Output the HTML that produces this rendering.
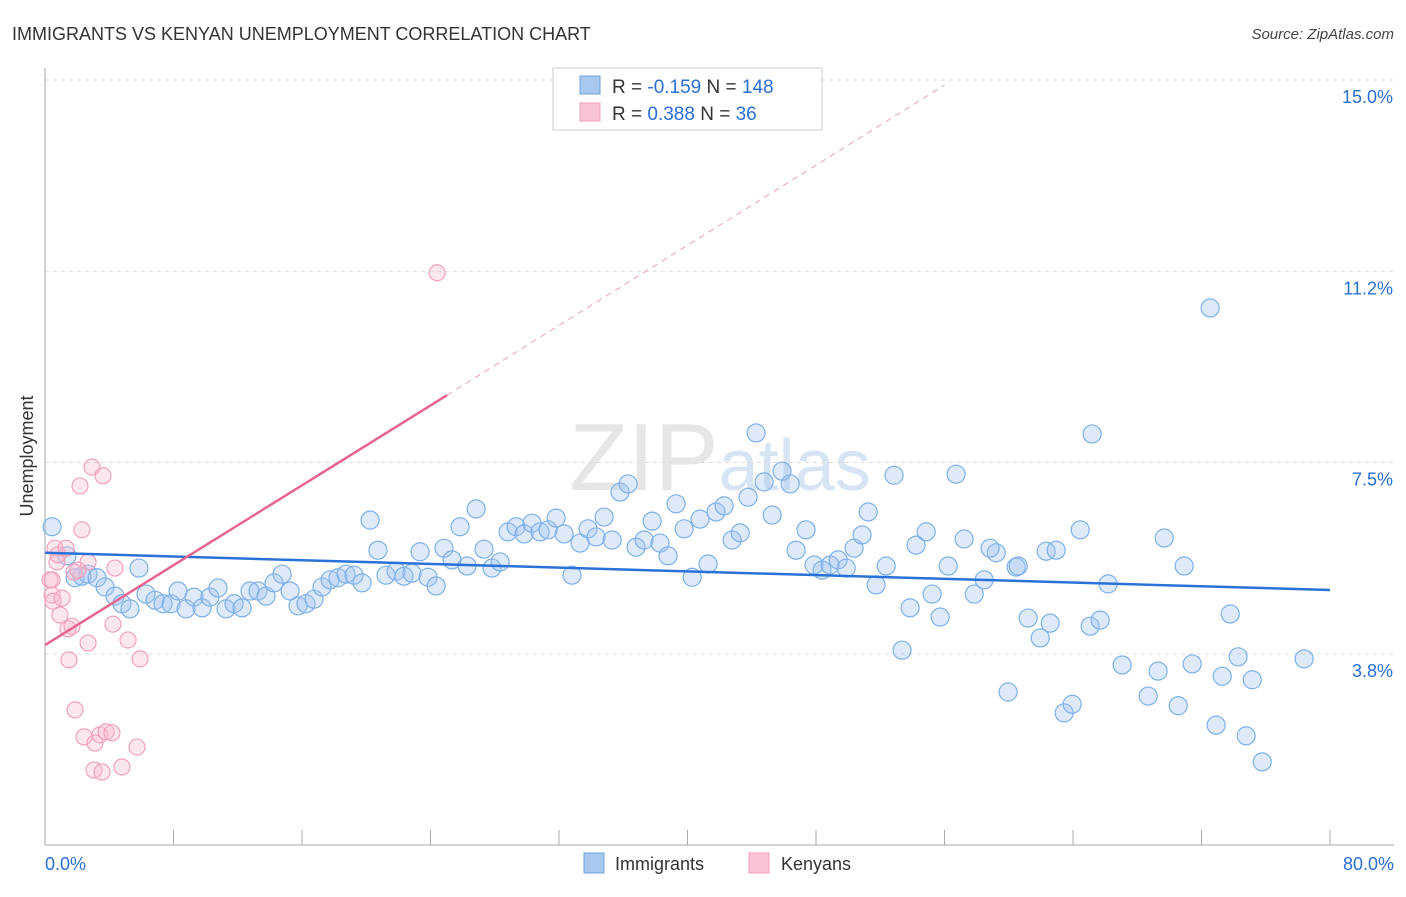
<!DOCTYPE html>
<html><head><meta charset="utf-8"><style>
body{margin:0;background:#fff;font-family:"Liberation Sans",sans-serif;}
svg text{font-family:"Liberation Sans",sans-serif;}
</style></head><body>
<svg id="chart" width="1406" height="892" xmlns="http://www.w3.org/2000/svg">
<text x="12" y="40" font-size="18" fill="#333">IMMIGRANTS VS KENYAN UNEMPLOYMENT CORRELATION CHART</text>
<text x="1394" y="39" font-size="15" fill="#444" text-anchor="end" font-style="italic">Source: ZipAtlas.com</text>
<text x="720" y="490" font-size="96" fill="#e6e6e6" text-anchor="middle" font-family="Liberation Serif">ZIP<tspan fill="#d6e4f4" font-family="Liberation Sans" font-size="72">atlas</tspan></text>
<g id="grid"></g>
<g id="axes"></g>
<g id="marks"></g>
<text transform="translate(33,456) rotate(-90)" font-size="18" fill="#333" text-anchor="middle">Unemployment</text>
<g>
<rect x="553" y="68" width="269" height="62" fill="#fff" stroke="#ccc"/>
<rect x="580" y="76" width="20" height="18" fill="#a9c8f0" stroke="#6fa2e0"/>
<rect x="580" y="103" width="20" height="18" fill="#f9c3d3" stroke="#f0a0b8"/>
<text x="612" y="93" font-size="19" fill="#333">R = <tspan fill="#2a6fd6">-0.159</tspan>   N = <tspan fill="#2a6fd6">148</tspan></text>
<text x="612" y="120" font-size="19" fill="#333">R =  <tspan fill="#2a6fd6">0.388</tspan>   N =  <tspan fill="#2a6fd6"> 36</tspan></text>
</g>
<g>
<rect x="584" y="853" width="20" height="20" fill="#a9c8f0" stroke="#6fa2e0"/>
<text x="615" y="870" font-size="18" fill="#333">Immigrants</text>
<rect x="749" y="853" width="20" height="20" fill="#f9c3d3" stroke="#f0a0b8"/>
<text x="781" y="870" font-size="18" fill="#333">Kenyans</text>
</g>
</svg>
<script>
const yTicks=[3.75,7.5,11.25,15];
const yTickLabels=["3.8%","7.5%","11.2%","15.0%"];
const xLabels=["0.0%","80.0%"];
const blueX=[0.44,1.37,1.87,2.30,2.68,3.24,3.74,4.36,4.79,5.29,5.85,6.29,6.85,7.35,7.85,8.28,8.78,9.28,9.78,10.27,10.77,11.27,11.77,12.27,12.76,13.26,13.76,14.26,14.76,15.26,15.75,16.25,16.75,17.25,17.75,18.24,18.74,19.24,19.74,20.24,20.73,21.23,21.86,22.35,22.85,23.35,23.85,24.35,24.84,25.34,25.84,26.28,26.84,27.33,27.83,28.33,28.83,29.33,29.83,30.32,30.82,31.32,31.82,32.32,32.81,33.31,33.81,34.31,34.81,35.31,35.80,36.30,36.80,37.30,37.80,38.29,38.79,39.29,39.79,40.29,40.78,41.28,41.78,42.28,42.78,43.28,43.77,44.27,44.77,45.27,45.89,46.39,46.76,47.38,47.88,48.38,48.88,49.38,49.88,50.37,50.87,51.25,51.74,52.37,52.86,53.36,53.86,54.23,54.86,55.23,55.73,56.23,56.72,57.22,57.85,58.47,59.22,59.96,60.46,61.21,61.96,62.33,62.58,63.45,63.95,64.45,65.07,65.19,66.19,67.06,68.68,69.30,69.68,70.55,70.92,71.42,72.54,72.91,73.29,73.79,74.28,74.78,75.16,75.78,78.39,58.84,60.59,62.95,65.69];
const blueY=[6.24,5.67,5.24,5.27,5.31,5.24,5.06,4.88,4.73,4.63,5.43,4.92,4.80,4.73,4.73,4.98,4.63,4.86,4.65,4.86,5.04,4.63,4.73,4.65,4.98,4.98,4.88,5.14,5.31,4.98,4.69,4.73,4.82,5.06,5.20,5.24,5.31,5.29,5.14,6.37,5.78,5.29,5.37,5.27,5.33,5.75,5.25,5.08,5.82,5.59,6.24,5.47,6.59,5.80,5.43,5.55,6.14,6.24,6.10,6.31,6.14,6.18,6.41,6.10,5.29,5.92,6.20,6.04,6.43,5.98,6.92,7.08,5.84,5.98,6.35,5.92,5.67,6.69,6.20,5.25,6.39,5.51,6.53,6.65,5.98,6.12,6.82,8.08,7.12,6.47,7.33,7.08,5.78,6.18,5.49,5.39,5.49,5.59,5.43,5.82,6.08,6.53,5.10,5.47,7.25,3.82,4.65,5.88,6.14,4.92,4.47,5.47,7.27,6.00,4.92,5.20,5.73,3.00,5.45,4.45,4.06,5.76,4.35,2.59,2.76,6.18,4.29,8.06,5.12,3.53,2.92,3.41,6.02,2.73,5.47,3.55,10.53,2.35,3.31,4.53,3.69,2.14,3.24,1.63,3.65,5.82,5.47,5.78,4.41];
const pinkX=[0.31,0.44,0.50,0.62,0.75,0.81,0.93,1.06,1.31,1.43,1.49,1.68,1.81,1.87,2.18,2.30,2.43,2.68,2.68,2.93,3.05,3.11,3.42,3.55,3.61,3.80,4.17,4.23,4.36,4.79,5.17,5.73,5.92,24.41,0.44,2.05];
const pinkY=[5.20,4.90,4.78,5.82,5.55,5.69,4.51,4.84,5.82,4.24,3.63,4.29,5.35,2.65,7.04,6.18,2.12,5.55,3.96,7.41,1.47,2.00,2.16,1.43,7.24,2.22,2.20,4.33,5.43,1.53,4.02,1.92,3.65,11.22,5.20,5.39];
const blueTrend=[5.73,5.00];
const pinkTrend=[3.92,8.82,14.9];
const pinkTrendX=[0,25.03,56];
const NS="http://www.w3.org/2000/svg";
const X=v=>45+v/80*1285;
const Y=v=>80+(15-v)*51;
function mk(tag,attrs,parent){const e=document.createElementNS(NS,tag);for(const k in attrs)e.setAttribute(k,attrs[k]);parent.appendChild(e);return e;}
const grid=document.getElementById('grid'),axes=document.getElementById('axes'),marks=document.getElementById('marks');
yTicks.forEach((t,i)=>{
 const l=mk('line',{x1:45,x2:1394,y1:Y(t),y2:Y(t),stroke:'#ddd','stroke-dasharray':'4,4'},grid);
 
 
 const tx=mk('text',{x:1393,y:Y(t)+23,'font-size':18,fill:'#2a6fd6','text-anchor':'end'},axes);
 tx.textContent=yTickLabels[i];
 
 
});
const yl=mk('line',{x1:45,x2:45,y1:68,y2:845,stroke:'#aaa'},axes);


const xl=mk('line',{x1:45,x2:1394,y1:845,y2:845,stroke:'#aaa'},axes);


for(let i=0;i<=10;i++){const t=mk('line',{x1:X(i*8),x2:X(i*8),y1:830,y2:845,stroke:'#aaa'},axes);
 
 }
const xa=mk('text',{x:45,y:870,'font-size':18,fill:'#2a6fd6'},axes);xa.textContent=xLabels[0];


const xb=mk('text',{x:1394,y:870,'font-size':18,fill:'#2a6fd6','text-anchor':'end'},axes);xb.textContent=xLabels[1];


blueX.forEach((v,i)=>{const c=mk('circle',{cx:X(v),cy:Y(blueY[i]),r:9,fill:'rgba(160,196,240,0.35)',stroke:'#7eb0ea','stroke-width':1.2},marks);
 
 });
pinkX.forEach((v,i)=>{const c=mk('circle',{cx:X(v),cy:Y(pinkY[i]),r:8,fill:'rgba(248,185,205,0.35)',stroke:'#f0a2bb','stroke-width':1.2},marks);
 
 });
const bt=mk('line',{x1:X(0),y1:Y(blueTrend[0]),x2:X(80),y2:Y(blueTrend[1]),stroke:'#2a72d8','stroke-width':2.5},marks);


const pt=mk('line',{x1:X(pinkTrendX[0]),y1:Y(pinkTrend[0]),x2:X(pinkTrendX[1]),y2:Y(pinkTrend[1]),stroke:'#e8658f','stroke-width':2.5},marks);


const pd=mk('line',{x1:X(pinkTrendX[1]),y1:Y(pinkTrend[1]),x2:X(pinkTrendX[2]),y2:Y(pinkTrend[2]),stroke:'#eaa0b8','stroke-width':1,'stroke-dasharray':'6,5'},marks);


</script>
</body></html>
